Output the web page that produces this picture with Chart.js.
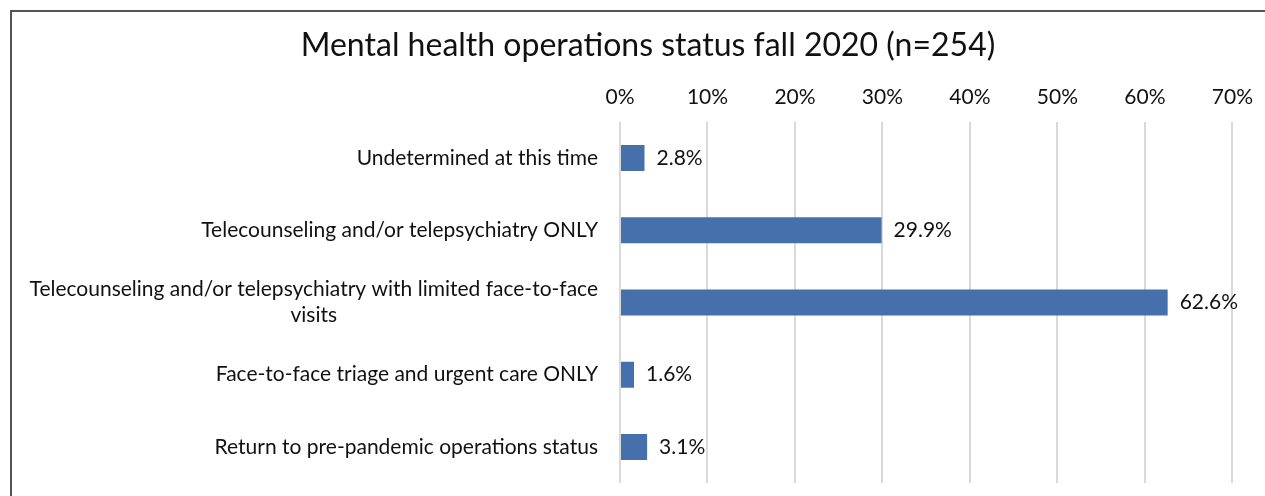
<!DOCTYPE html>
<html>
<head>
<meta charset="utf-8">
<script src="https://cdn.jsdelivr.net/npm/chart.js@4"></script>
<style>
  html, body { margin: 0; padding: 0; background: #fff; }
  #frame {
    position: absolute; left: 10px; top: 10px;
    width: 1400px; height: 600px;
    border: 2px solid #555; box-sizing: border-box;
  }
  #wrap { position: absolute; left: 0; top: 0; width: 1265px; height: 496px; }
</style>
</head>
<body>
<div id="frame"></div>
<div id="wrap"><canvas id="chart" width="1265" height="496"></canvas></div>
<script>
const TITLE = "Mental health operations status fall 2020 (n=254)";
const categories = [
  ["Undetermined at this time"],
  ["Telecounseling and/or telepsychiatry ONLY"],
  ["Telecounseling and/or telepsychiatry with limited face-to-face", "visits"],
  ["Face-to-face triage and urgent care ONLY"],
  ["Return to pre-pandemic operations status"]
];
const values = [2.8, 29.9, 62.6, 1.6, 3.1];
const xTicks = [0, 10, 20, 30, 40, 50, 60, 70];

const FONT = "Lato, 'Open Sans', sans-serif";

// title, drawn where Excel put it (not centred on the canvas)
const titlePlugin = {
  id: "titlePlugin",
  afterDraw(chart) {
    const ctx = chart.ctx;
    ctx.save();
    ctx.font = "32px " + FONT;
    ctx.fillStyle = "#111";
    ctx.textAlign = "center";
    ctx.textBaseline = "middle";
    ctx.fillText(TITLE, 648, 46);
    ctx.restore();
  }
};

// category labels, right-aligned block with lines centred inside it
const catLabels = {
  id: "catLabels",
  afterDraw(chart) {
    const ctx = chart.ctx;
    const y = chart.scales.y;
    ctx.save();
    ctx.font = "21px " + FONT;
    ctx.fillStyle = "#111";
    ctx.textBaseline = "middle";
    ctx.textAlign = "center";
    const right = chart.chartArea.left - 22;
    const lh = 26;
    categories.forEach((lines, i) => {
      const cy = y.getPixelForValue(i);
      const w = Math.max(...lines.map(l => ctx.measureText(l).width));
      const cx = right - w / 2;
      const top = cy - (lines.length - 1) * lh / 2;
      lines.forEach((l, j) => ctx.fillText(l, cx, top + j * lh));
    });
    ctx.restore();
  }
};

// value labels after the bar ends
const valueLabels = {
  id: "valueLabels",
  afterDatasetsDraw(chart) {
    const ctx = chart.ctx;
    const meta = chart.getDatasetMeta(0);
    ctx.save();
    ctx.font = "21px " + FONT;
    ctx.fillStyle = "#111";
    ctx.textBaseline = "middle";
    ctx.textAlign = "left";
    meta.data.forEach((bar, i) => {
      ctx.fillText(values[i].toFixed(1) + "%", bar.x + 12, bar.y);
    });
    ctx.restore();
  }
};

new Chart(document.getElementById("chart"), {
  type: "bar",
  data: {
    labels: categories.map(c => c.join(" ")),
    datasets: [{
      data: values,
      backgroundColor: "#4570ac",
      borderWidth: 0,
      barPercentage: 1,
      categoryPercentage: 0.36
    }]
  },
  options: {
    indexAxis: "y",
    responsive: false,
    animation: false,
    layout: { padding: { top: 72, left: 0, right: 32, bottom: 13 } },
    plugins: {
      legend: { display: false },
      tooltip: { enabled: false },
      title: { display: false }
    },
    scales: {
      x: {
        position: "top",
        min: 0,
        max: 70,
        afterBuildTicks(scale) {
          scale.ticks = xTicks.map(v => ({ value: v }));
        },
        ticks: {
          color: "#111",
          font: { family: FONT, size: 21 },
          padding: 12,
          callback: v => v + "%"
        },
        grid: { color: "#d9d9d9", lineWidth: 2, drawTicks: false },
        border: { display: false },
        afterFit(scale) { scale.height = 50; }
      },
      y: {
        ticks: { display: false },
        grid: { display: false },
        border: { display: false },
        afterFit(scale) { scale.width = 620; }
      }
    }
  },
  plugins: [titlePlugin, catLabels, valueLabels]
});
</script>
</body>
</html>
